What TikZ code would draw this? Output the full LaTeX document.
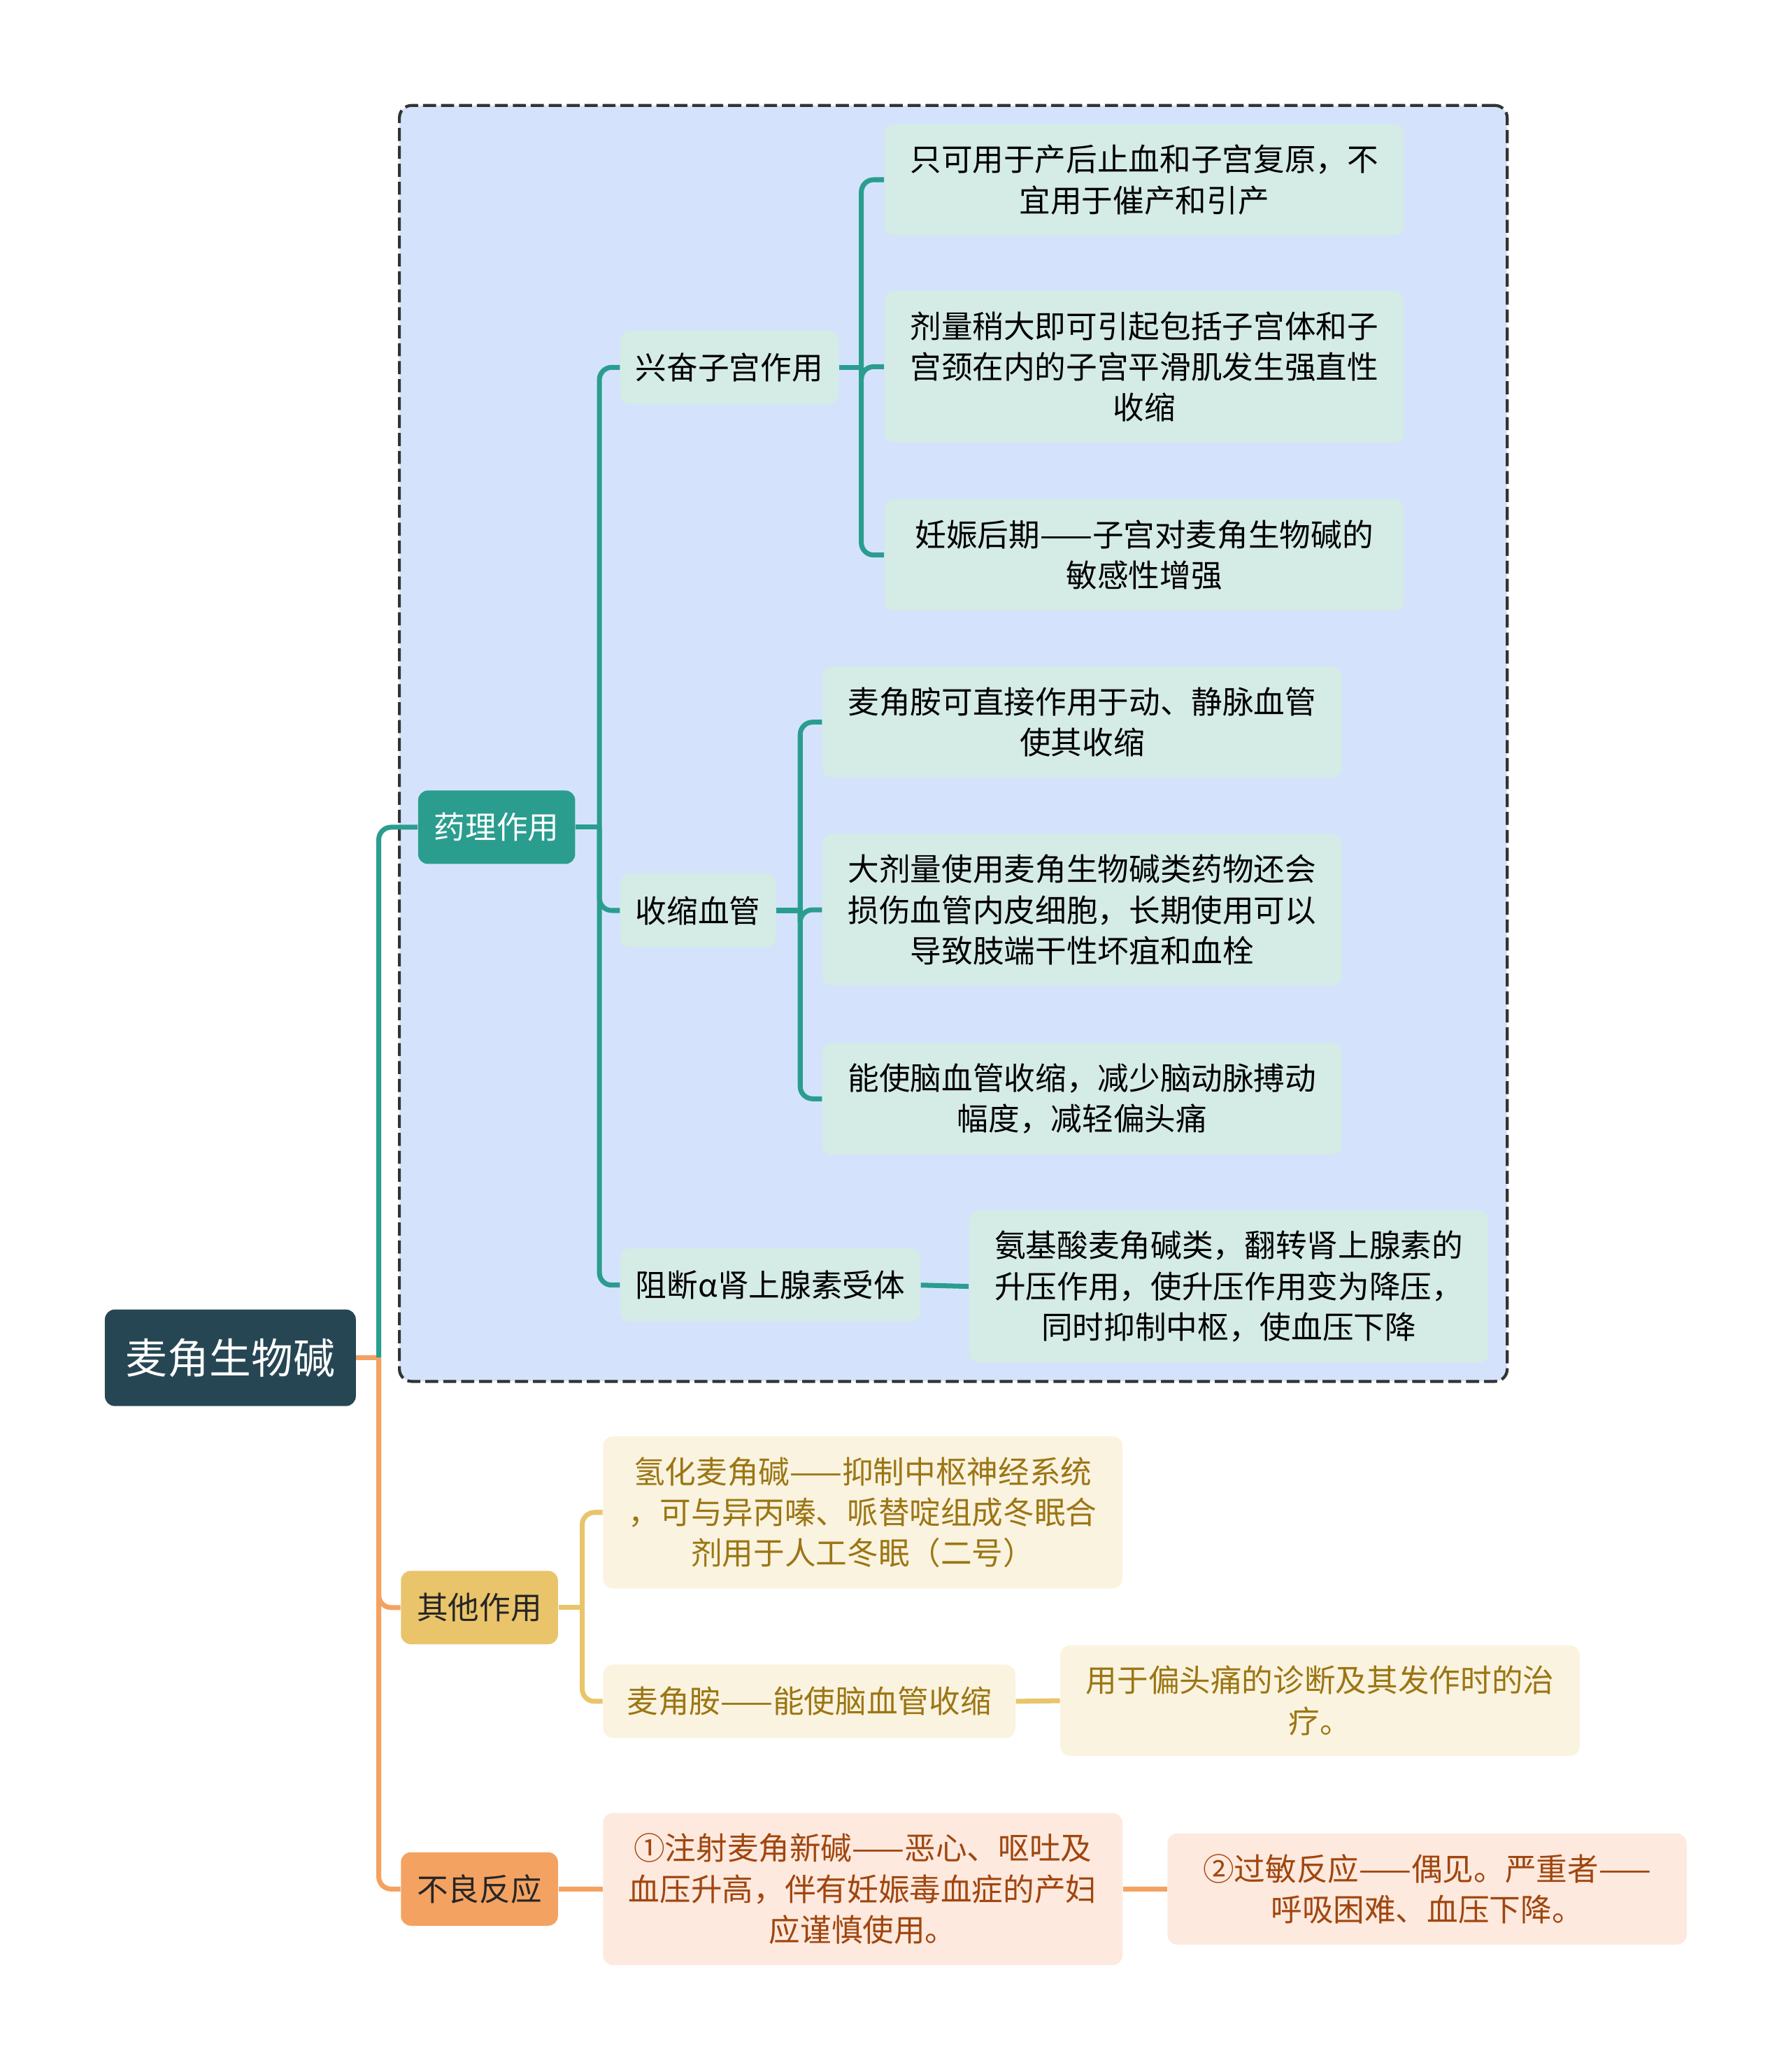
\documentclass[tikz,border=0pt]{standalone}
\usepackage{fontspec}
\setmainfont{Noto Sans CJK SC}
\usepackage{tikz}
\usetikzlibrary{positioning, fit, calc, backgrounds}
\definecolor{rootblue}{HTML}{264653}
\definecolor{tealmain}{HTML}{2A9D8F}
\definecolor{goldmain}{HTML}{E9C46A}
\definecolor{orangemain}{HTML}{F4A261}
\definecolor{groupblue}{HTML}{D4E3FB}
\definecolor{tealpale}{HTML}{D5EBE6}
\definecolor{goldpale}{HTML}{FAF3E0}
\definecolor{orangepale}{HTML}{FDE9DE}
\definecolor{goldtext}{HTML}{9C7614}
\definecolor{orangetext}{HTML}{A0460F}

\begin{document}
\begin{tikzpicture}[x=0.18893mm, y=-0.18893mm,
    rootnode/.style={rectangle, fill=rootblue, text=white, rounded corners=4pt, inner xsep=3mm, minimum height=13.8mm, anchor=west, font=\fontsize{17}{20}\selectfont},
    topicnode/.style={rectangle, rounded corners=4pt, inner xsep=2.3mm, minimum height=10.5mm, anchor=west, font=\fontsize{12.7}{16.6}\selectfont},
    subnode/.style={rectangle, fill=tealpale, rounded corners=4pt, inner xsep=2.2mm, minimum height=10.5mm, anchor=west, font=\fontsize{12.7}{16.6}\selectfont},
    leafnode/.style={rectangle, rounded corners=4pt, align=center, minimum width=74.25mm, inner xsep=2mm, inner ysep=8.4pt, anchor=west, font=\fontsize{12.7}{16.6}\selectfont},
    groupbox/.style={rectangle, draw=black!80, fill=groupblue, line width=1.2pt, dash pattern=on 5.3pt off 2pt, rounded corners=5pt, inner sep=2.6mm},
    tealline/.style={draw=tealmain, line width=2pt, rounded corners=5pt},
    goldline/.style={draw=goldmain, line width=2pt, rounded corners=5pt},
    orangeline/.style={draw=orangemain, line width=2pt, rounded corners=5pt}]

    \useasboundingbox (0,0) rectangle (1355,1568);

    % Root and main topics
    \node[rootnode] (root) at (79,1027.5) {麦角生物碱};
    \node[topicnode, fill=tealmain, text=white] (pharm) at (316,626) {药理作用};
    \node[topicnode, fill=goldmain, text=black!85] (other) at (303,1216.5) {其他作用};
    \node[topicnode, fill=orangemain, text=black!85] (adverse) at (303,1429.5) {不良反应};

    % Pharmacology
    \node[subnode] (uterus) at (469,278) {兴奋子宫作用};
    \node[subnode] (vessel) at (469,689) {收缩血管};
    \node[subnode] (alpha) at (469,972.5) {阻断α肾上腺素受体};

    \node[leafnode, fill=tealpale] (u1) at (669,136) {只可用于产后止血和子宫复原，不\\宜用于催产和引产};
    \node[leafnode, fill=tealpale] (u2) at (669,277.5) {剂量稍大即可引起包括子宫体和子\\宫颈在内的子宫平滑肌发生强直性\\收缩};
    \node[leafnode, fill=tealpale] (u3) at (669,420) {妊娠后期——子宫对麦角生物碱的\\敏感性增强};

    \node[leafnode, fill=tealpale] (v1) at (622,546.5) {麦角胺可直接作用于动、静脉血管\\使其收缩};
    \node[leafnode, fill=tealpale] (v2) at (622,688.5) {大剂量使用麦角生物碱类药物还会\\损伤血管内皮细胞，长期使用可以\\导致肢端干性坏疽和血栓};
    \node[leafnode, fill=tealpale] (v3) at (622,831.5) {能使脑血管收缩，减少脑动脉搏动\\幅度，减轻偏头痛};

    \node[leafnode, fill=tealpale] (a1) at (733,973.5) {氨基酸麦角碱类，翻转肾上腺素的\\升压作用，使升压作用变为降压，\\同时抑制中枢，使血压下降};

    % Other uses
    \node[leafnode, fill=goldpale, text=goldtext] (o1) at (456,1144.5) {氢化麦角碱——抑制中枢神经系统\\，可与异丙嗪、哌替啶组成冬眠合\\剂用于人工冬眠（二号）};
    \node[subnode, fill=goldpale, text=goldtext, minimum width=58.95mm] (o2) at (456,1287.5) {麦角胺——能使脑血管收缩};
    \node[leafnode, fill=goldpale, text=goldtext] (o2a) at (802,1287) {用于偏头痛的诊断及其发作时的治\\疗。};

    % Adverse reactions
    \node[leafnode, fill=orangepale, text=orangetext] (d1) at (456,1429.5) {①注射麦角新碱——恶心、呕吐及\\血压升高，伴有妊娠毒血症的产妇\\应谨慎使用。};
    \node[leafnode, fill=orangepale, text=orangetext] (d2) at (883,1429.5) {②过敏反应——偶见。严重者——\\呼吸困难、血压下降。};

    % Summary box
    \begin{scope}[on background layer]
        \node[groupbox, fit=(pharm)(u1)(a1)(v3)] (group) {};
    \end{scope}

    % Junctions
    \coordinate (trunk) at ($(root.east)+(17,0)$);
    \coordinate (jPharm) at ($(pharm.east)+(18,0)$);
    \coordinate (jUterus) at ($(uterus.east)+(17,0)$);
    \coordinate (jVessel) at ($(vessel.east)+(18,0)$);
    \coordinate (jOther) at ($(other.east)+(18,0)$);

    % Links
    \draw[orangeline] (root.east) -- (trunk);
    \draw[tealline] (trunk) |- (pharm.west);
    \draw[orangeline] (trunk) |- (other.west);
    \draw[orangeline] (trunk) |- (adverse.west);

    \draw[tealline] (pharm.east) -- (jPharm);
    \draw[tealline] (jPharm) |- (uterus.west);
    \draw[tealline] (jPharm) |- (vessel.west);
    \draw[tealline] (jPharm) |- (alpha.west);

    \draw[tealline] (uterus.east) -- (jUterus);
    \draw[tealline] (jUterus) |- (u1.west);
    \draw[tealline] (jUterus) |- (u2.west);
    \draw[tealline] (jUterus) |- (u3.west);

    \draw[tealline] (vessel.east) -- (jVessel);
    \draw[tealline] (jVessel) |- (v1.west);
    \draw[tealline] (jVessel) |- (v2.west);
    \draw[tealline] (jVessel) |- (v3.west);

    \draw[tealline] (alpha.east) -- (a1.west);

    \draw[goldline] (other.east) -- (jOther);
    \draw[goldline] (jOther) |- (o1.west);
    \draw[goldline] (jOther) |- (o2.west);
    \draw[goldline] (o2.east) -- (o2a.west);

    \draw[orangeline] (adverse.east) -- (d1.west);
    \draw[orangeline] (d1.east) -- (d2.west);
\end{tikzpicture}
\end{document}
